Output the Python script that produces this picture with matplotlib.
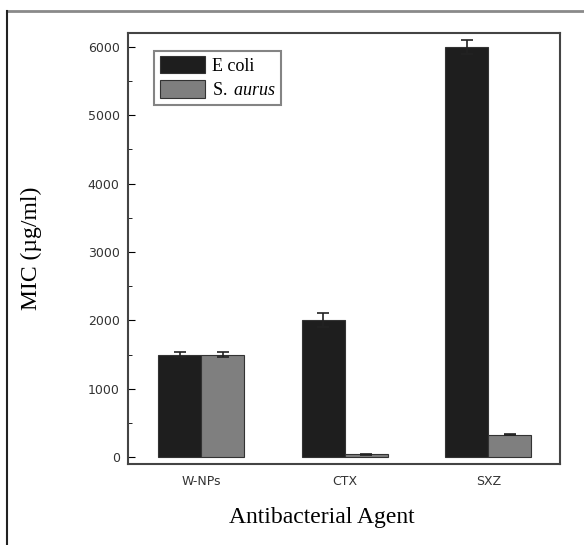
import matplotlib.pyplot as plt
import numpy as np
from matplotlib.lines import Line2D

# data
agents = ["W-NPs", "CTX", "SXZ"]
ecoli = [1500, 2000, 6000]
ecoli_err = [30, 100, 100]
saurus = [1500, 40, 330]
saurus_err = [40, 10, 10]

plt.rcParams["mathtext.fontset"] = "custom"
plt.rcParams["mathtext.rm"] = "Liberation Serif"
plt.rcParams["mathtext.it"] = "Liberation Serif:italic"

fig = plt.figure(figsize=(5.84, 5.45), dpi=100)
ax = fig.add_axes([128 / 584, 1 - 464 / 545, 432 / 584, 431 / 545])

x = np.arange(len(agents))
w = 0.30
ax.bar(x - w / 2, ecoli, w, yerr=ecoli_err, color="#1e1e1e", edgecolor="#333333",
       linewidth=0.8, capsize=4, error_kw=dict(ecolor="#222222", elinewidth=1.2, capthick=1.2),
       label="E coli")
ax.bar(x + w / 2, saurus, w, yerr=saurus_err, color="#7f7f7f", edgecolor="#333333",
       linewidth=0.8, capsize=4, error_kw=dict(ecolor="#222222", elinewidth=1.2, capthick=1.2),
       label="$\\mathrm{S.}\\ \\mathit{aurus}$")

ax.set_xlim(-0.51, 2.5)
ax.set_ylim(-100, 6200)
ax.set_yticks(range(0, 6001, 1000))
ax.set_yticks(range(500, 6000, 1000), minor=True)
ax.set_xticks(x)
ax.set_xticklabels(agents)
ax.tick_params(axis="x", length=0, pad=8, labelsize=9, labelcolor="#333333")
ax.tick_params(axis="y", which="major", direction="in", length=5, labelsize=9,
               labelcolor="#333333", pad=6)
ax.tick_params(axis="y", which="minor", direction="in", length=3)
for s in ax.spines.values():
    s.set_color("#444444")
    s.set_linewidth(1.5)

ax.set_ylabel("MIC (\u00b5g/ml)", family="Liberation Serif", fontsize=17)
ax.yaxis.set_label_coords(-86 / 432, 0.5)
ax.set_xlabel("Antibacterial Agent", family="Liberation Serif", fontsize=17)
ax.xaxis.set_label_coords((322 - 128) / 432, -43 / 431)

leg = ax.legend(loc="upper left", prop={"family": "Liberation Serif", "size": 13},
                handlelength=2.5, handleheight=1.1, borderpad=0.3, labelspacing=0.3,
                handletextpad=0.4, fancybox=False, bbox_to_anchor=(0.04, 0.98))
leg.get_frame().set_edgecolor("#666666")
leg.get_frame().set_linewidth(1.5)

# outer frame lines of the figure
fig.add_artist(Line2D([7 / 584, 1], [1 - 11 / 545, 1 - 11 / 545], color="#8a8a8a", lw=2))
fig.add_artist(Line2D([7 / 584, 7 / 584], [0, 1 - 11 / 545], color="#222222", lw=1.5))

fig.savefig("out.png", dpi=100)
